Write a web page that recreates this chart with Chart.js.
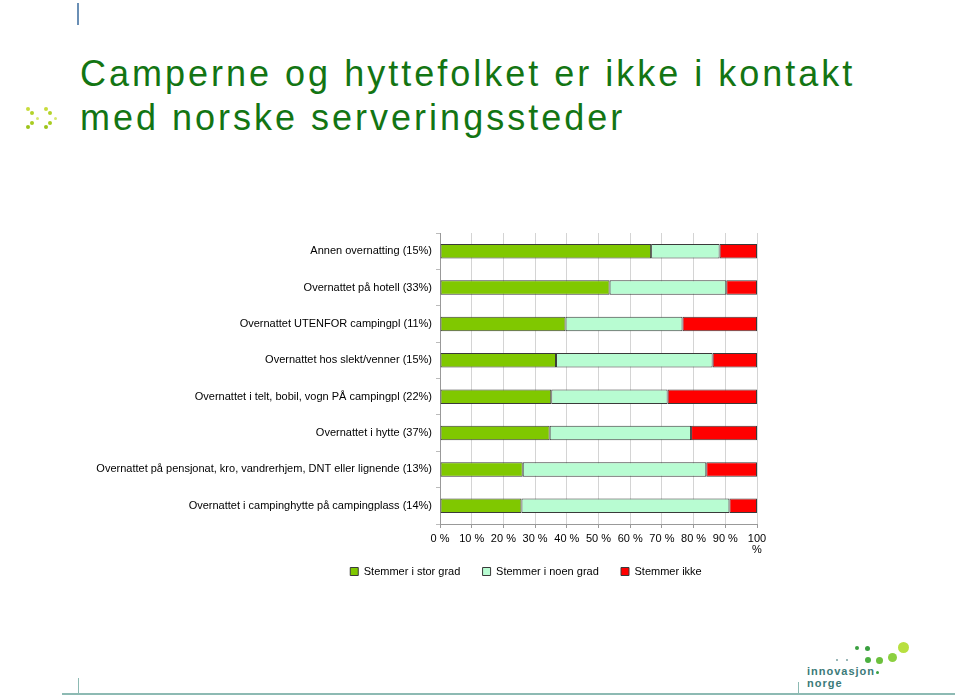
<!DOCTYPE html>
<html>
<head>
<meta charset="utf-8">
<script src="https://cdn.jsdelivr.net/npm/chart.js@4"></script>
<style>
  body { margin: 0; background: #fff; width: 960px; height: 700px; position: relative; overflow: hidden; font-family: "Liberation Sans", Arial, sans-serif; }
  #title { position: absolute; left: 80px; top: 52px; color: #137513; font-size: 36px; line-height: 44px; letter-spacing: 3px; }
  #topline { position: absolute; left: 77px; top: 3px; width: 2px; height: 22px; background: #6a8fb5; }
  #bottomline { position: absolute; left: 62px; top: 693px; width: 893px; height: 2px; background: #8dbab3; }
  .vt { position: absolute; width: 1px; background: #8dbab3; }
  .dot { position: absolute; border-radius: 50%; }
  #logo { position: absolute; left: 807px; top: 665px; color: #3b7a78; font-size: 11px; font-weight: bold; line-height: 12px; letter-spacing: 1px; }
  #wrap { position: absolute; left: 92px; top: 220px; width: 868px; height: 370px; }
</style>
</head>
<body>
<div id="topline"></div>
<div id="title">Camperne og hyttefolket er ikke i kontakt<br>med norske serveringssteder</div>
<div id="bottomline"></div>
<div class="vt" style="left:78px;top:678px;height:16px"></div>
<div class="vt" style="left:798px;top:682px;height:12px"></div>
<div id="logo">innovasjon<br>norge</div>
<div id="wrap"><canvas id="myChart"></canvas></div>
<script>
var kategorier = [
  "Annen overnatting (15%)",
  "Overnattet på hotell (33%)",
  "Overnattet UTENFOR campingpl (11%)",
  "Overnattet hos slekt/venner (15%)",
  "Overnattet i telt, bobil, vogn PÅ campingpl (22%)",
  "Overnattet i hytte (37%)",
  "Overnattet på pensjonat, kro, vandrerhjem, DNT eller lignende (13%)",
  "Overnattet i campinghytte på campingplass (14%)"
];
var storGrad = [66.6, 53.5, 39.6, 36.6, 35.1, 34.6, 26.1, 25.7];
var noenGrad = [21.6, 36.8, 36.9, 49.4, 36.7, 44.6, 57.9, 65.6];
var stemmerIkke = [11.8, 9.7, 23.5, 14.0, 28.2, 20.8, 16.0, 8.7];
var serier = ["Stemmer i stor grad", "Stemmer i noen grad", "Stemmer ikke"];
var farger = ["#80c800", "#b8fcd2", "#ff0000"];

// dekor: piler til venstre og prikker i logoen
var pil = [[28,109,4,"#c8dc3c"],[32,113,4,"#b4d22a"],[37,118,3,"#d8e870"],[32,123,4,"#a8cc20"],[28,127,4,"#9cc41a"],
           [46,109,4,"#c8dc3c"],[50,113,4,"#b4d22a"],[55,118,3,"#d8e870"],[50,123,4,"#a8cc20"],[46,127,4,"#9cc41a"]];
var logoDots = [[857,648,4,"#3aa040"],[867,648,5,"#3aa040"],[837,660,2,"#7aa0a0"],[847,660,2,"#7aa0a0"],
                [868,660,6,"#4cb040"],[879,660,7,"#6cc03c"],[892,657,9,"#8cd040"],[903,647,11,"#b8e040"],[877,672,3,"#3aa040"]];
pil.concat(logoDots).forEach(function (d) {
  var el = document.createElement("div");
  el.className = "dot";
  el.style.left = (d[0] - d[2] / 2) + "px";
  el.style.top = (d[1] - d[2] / 2) + "px";
  el.style.width = d[2] + "px";
  el.style.height = d[2] + "px";
  el.style.background = d[3];
  document.body.appendChild(el);
});

Chart.defaults.font.family = '"Liberation Sans", Arial, sans-serif';
Chart.defaults.font.size = 11;
Chart.defaults.color = "#000";

var data = [storGrad, noenGrad, stemmerIkke];
var ctx = document.getElementById("myChart").getContext("2d");
var chart = new Chart(ctx, {
  type: "bar",
  data: {
    labels: kategorier,
    datasets: serier.map(function (navn, i) {
      return {
        label: navn,
        data: data[i],
        backgroundColor: farger[i],
        borderColor: "#3a3a3a",
        borderWidth: 1,
        borderSkipped: false,
        barPercentage: 0.4,
        categoryPercentage: 1
      };
    })
  },
  options: {
    indexAxis: "y",
    responsive: true,
    maintainAspectRatio: false,
    animation: false,
    layout: { padding: { top: 13, right: 0, bottom: 3, left: 0 } },
    scales: {
      x: {
        stacked: true,
        min: 0,
        max: 100,
        ticks: {
          stepSize: 10,
          padding: 5,
          font: { lineHeight: 1.0 },
          callback: function (v) { return v === 100 ? ["100", "%"] : v + " %"; },
          maxRotation: 0
        },
        grid: { color: "#d4d4d4", tickLength: 4, tickColor: "#999" },
        border: { color: "#999" },
        afterFit: function (scale) { scale.height = 32; }
      },
      y: {
        stacked: true,
        ticks: { padding: 4 },
        grid: { drawOnChartArea: false, tickLength: 4, color: "#bbb" },
        border: { color: "#999" },
        afterFit: function (scale) { scale.width = 348; }
      },
      // tom akse til høyre som holder plass, slik at plottet slutter ved 100 %
      yPlass: {
        type: "category",
        axis: "y",
        position: "right",
        ticks: { display: false },
        grid: { display: false },
        border: { display: false },
        afterFit: function (scale) { scale.width = 203; }
      }
    },
    plugins: {
      legend: {
        position: "bottom",
        labels: {
          boxWidth: 8,
          boxHeight: 8,
          padding: 10,
          color: "#000",
          generateLabels: function (c) {
            var items = Chart.defaults.plugins.legend.labels.generateLabels(c);
            // litt ekstra luft mellom elementene
            items.forEach(function (it, i) { if (i < items.length - 1) it.text += "    "; });
            return items;
          }
        }
      },
      tooltip: { enabled: false }
    }
  }
});
</script>
</body>
</html>
